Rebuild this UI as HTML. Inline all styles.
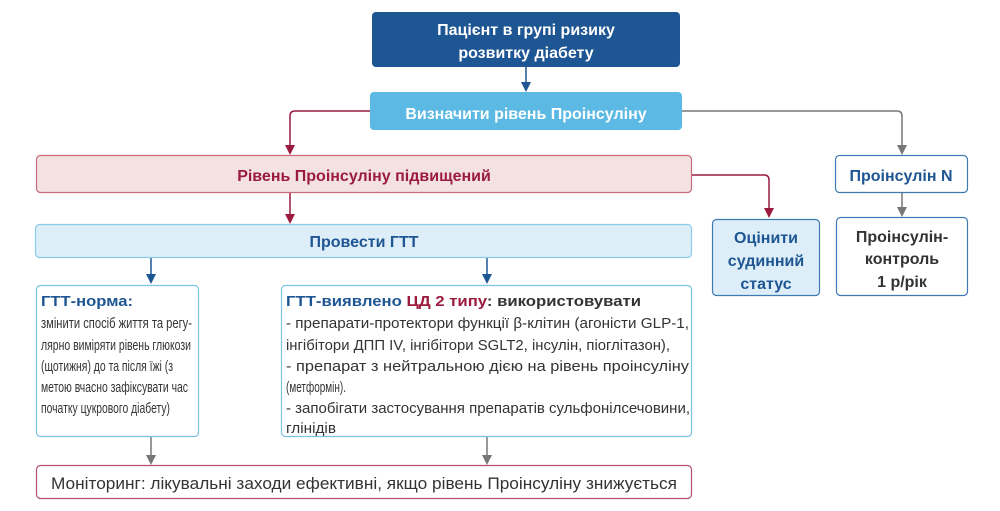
<!DOCTYPE html>
<html><head><meta charset="utf-8"><style>
html,body{margin:0;padding:0;background:#fff;width:1000px;height:511px;overflow:hidden}
svg{display:block;font-family:"Liberation Sans",sans-serif}
</style></head><body>
<svg width="1000" height="511" viewBox="0 0 1000 511" xmlns="http://www.w3.org/2000/svg">
<g fill="none" stroke-width="1.5">
<path d="M526 67 V84" stroke="#1e5593"/>
<path d="M370 111 H295 Q290 111 290 116 V147" stroke="#9b1b3f"/>
<path d="M682 111 H897 Q902 111 902 116 V147" stroke="#777"/>
<path d="M692 175 H764 Q769 175 769 180 V210" stroke="#9b1b3f"/>
<path d="M290 192 V216" stroke="#9b1b3f"/>
<path d="M902 192 V209" stroke="#777"/>
<path d="M151 257 V276" stroke="#1e5593"/>
<path d="M487 257 V276" stroke="#1e5593"/>
<path d="M151 437 V457" stroke="#777"/>
<path d="M487 437 V457" stroke="#777"/>
</g>
<g>
<path d="M521 82 L531 82 L526 92 Z" fill="#1e5593"/>
<path d="M285 145 L295 145 L290 155 Z" fill="#9b1b3f"/>
<path d="M897 145 L907 145 L902 155 Z" fill="#777"/>
<path d="M764 208 L774 208 L769 218 Z" fill="#9b1b3f"/>
<path d="M285 214 L295 214 L290 224 Z" fill="#9b1b3f"/>
<path d="M897 207 L907 207 L902 217 Z" fill="#777"/>
<path d="M146 274 L156 274 L151 284 Z" fill="#1e5593"/>
<path d="M482 274 L492 274 L487 284 Z" fill="#1e5593"/>
<path d="M146 455 L156 455 L151 465 Z" fill="#777"/>
<path d="M482 455 L492 455 L487 465 Z" fill="#777"/>
</g>
<rect x="372" y="12" width="308" height="55" rx="4" fill="#1e5593"/>
<rect x="370" y="92" width="312" height="38" rx="4" fill="#5bb9e3"/>
<rect x="36.5" y="155.5" width="655" height="37" rx="4" fill="#f3e2e1" stroke="#c76a7d" stroke-width="1.2"/>
<rect x="35.5" y="224.5" width="656" height="33" rx="4" fill="#ddeef8" stroke="#8ccbea" stroke-width="1.2"/>
<rect x="712.5" y="219.5" width="107" height="76" rx="4" fill="#ddeef8" stroke="#3f7ab5" stroke-width="1.2"/>
<rect x="835.5" y="155.5" width="132" height="37" rx="4" fill="#fff" stroke="#3f7ab5" stroke-width="1.2"/>
<rect x="836.5" y="217.5" width="131" height="78" rx="4" fill="#fff" stroke="#3f7ab5" stroke-width="1.2"/>
<rect x="36.5" y="285.5" width="162" height="151" rx="4" fill="#fff" stroke="#7cc3e6" stroke-width="1.2"/>
<rect x="281.5" y="285.5" width="410" height="151" rx="4" fill="#fff" stroke="#7cc3e6" stroke-width="1.2"/>
<rect x="36.5" y="465.5" width="655" height="33" rx="4" fill="#fff" stroke="#b5506a" stroke-width="1.2"/>
<g font-weight="bold" font-size="16" text-anchor="middle">
<text x="526" y="35" fill="#fff">Пацієнт в групі ризику</text>
<text x="526" y="58" fill="#fff">розвитку діабету</text>
<text x="526" y="119" fill="#fff">Визначити рівень Проінсуліну</text>
<text x="364" y="181" fill="#9b1b3f">Рівень Проінсуліну підвищений</text>
<text x="364" y="247" fill="#1e5593">Провести ГТТ</text>
<text x="766" y="243" fill="#1e5593">Оцінити</text>
<text x="766" y="266" fill="#1e5593">судинний</text>
<text x="766" y="289" fill="#1e5593">статус</text>
<text x="901" y="181" fill="#1e5593">Проінсулін N</text>
<text x="902" y="242" fill="#333">Проінсулін-</text>
<text x="902" y="264" fill="#333">контроль</text>
<text x="902" y="287" fill="#333">1 р/рік</text>
</g>
<g font-size="15" font-weight="bold">
<text x="41" y="306" fill="#1e5593" textLength="92" lengthAdjust="spacingAndGlyphs">ГТТ-норма:</text>
<text x="286" y="306" textLength="355" lengthAdjust="spacingAndGlyphs"><tspan fill="#1e5593">ГТТ-виявлено </tspan><tspan fill="#9b1b3f">ЦД 2 типу</tspan><tspan fill="#333">: використовувати</tspan></text>
</g>
<g font-size="15" fill="#333">
<text x="41" y="328" textLength="151" lengthAdjust="spacingAndGlyphs">змінити спосіб життя та  регу-</text>
<text x="41" y="350" textLength="150" lengthAdjust="spacingAndGlyphs">лярно виміряти рівень глюкози</text>
<text x="41" y="371" textLength="132" lengthAdjust="spacingAndGlyphs">(щотижня) до та після їжі (з</text>
<text x="41" y="392" textLength="147" lengthAdjust="spacingAndGlyphs">метою вчасно зафіксувати час</text>
<text x="41" y="413" textLength="129" lengthAdjust="spacingAndGlyphs">початку цукрового діабету)</text>
<text x="286" y="328" textLength="403" lengthAdjust="spacingAndGlyphs">- препарати-протектори функції β-клітин (агоністи GLP-1,</text>
<text x="286" y="350" textLength="384" lengthAdjust="spacingAndGlyphs">інгібітори ДПП IV, інгібітори  SGLT2, інсулін, піоглітазон),</text>
<text x="286" y="371" textLength="403" lengthAdjust="spacingAndGlyphs">- препарат  з  нейтральною  дією  на  рівень  проінсуліну</text>
<text x="286" y="392" textLength="60" lengthAdjust="spacingAndGlyphs">(метформін).</text>
<text x="286" y="413" textLength="404" lengthAdjust="spacingAndGlyphs">- запобігати застосування препаратів сульфонілсечовини,</text>
<text x="286" y="433" textLength="50" lengthAdjust="spacingAndGlyphs">глінідів</text>
</g>
<text x="51" y="489" font-size="17" fill="#333" textLength="626" lengthAdjust="spacingAndGlyphs">Моніторинг: лікувальні заходи ефективні, якщо рівень Проінсуліну знижується</text>
</svg>
</body></html>
